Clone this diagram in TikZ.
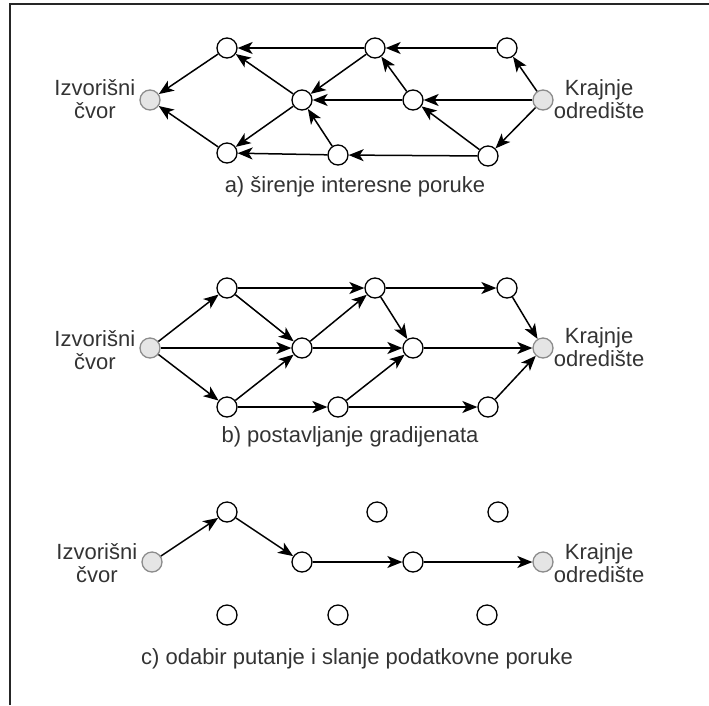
\documentclass[tikz,border=0pt]{standalone}
\usepackage{fontspec}
\setmainfont{Liberation Sans}
\usetikzlibrary{arrows.meta}

\begin{document}
\begin{tikzpicture}[x=1pt,y=-1pt,%
    vertex/.style={circle,draw,line width=1.3pt,fill=white,minimum size=20pt,inner sep=0pt},%
    endpoint/.style={vertex,draw=black!45,fill=black!10},%
    lbl/.style={text=black!80,font=\fontsize{22}{22.5}\selectfont,align=center,inner sep=0pt},%
    edge/.style={line width=1.5pt,-{Stealth[length=15pt,width=12pt,inset=4pt]}}]%
          \useasboundingbox (0,0) rectangle (709,705);%
          \draw [line width=1.5pt,black!85] (10,705) to (10,4) to (709,4);%
          % a)
          \node [endpoint] (aS) at (150,100) {};%
          \node [vertex] (aT1) at (227,48) {};%
          \node [vertex] (aT2) at (375,48) {};%
          \node [vertex] (aT3) at (507,48) {};%
          \node [vertex] (aM1) at (302,100) {};%
          \node [vertex] (aM2) at (413,100) {};%
          \node [vertex] (aB1) at (227,153) {};%
          \node [vertex] (aB2) at (338,155) {};%
          \node [vertex] (aB3) at (488,156) {};%
          \node [endpoint] (aD) at (543,100) {};%
          \draw [edge] (aT1) to (aS);%
          \draw [edge] (aB1) to (aS);%
          \draw [edge] (aT2) to (aT1);%
          \draw [edge] (aM1) to (aT1);%
          \draw [edge] (aT2) to (aM1);%
          \draw [edge] (aM1) to (aB1);%
          \draw [edge] (aB2) to (aB1);%
          \draw [edge] (aB2) to (aM1);%
          \draw [edge] (aM2) to (aM1);%
          \draw [edge] (aM2) to (aT2);%
          \draw [edge] (aT3) to (aT2);%
          \draw [edge] (aD) to (aT3);%
          \draw [edge] (aD) to (aM2);%
          \draw [edge] (aB3) to (aM2);%
          \draw [edge] (aD) to (aB3);%
          \draw [edge] (aB3) to (aB2);%
          \node [lbl,anchor=east] (aSrc) at ([xshift=-4pt,yshift=1pt]aS.west) {Izvorišni\\čvor};%
          \node [lbl,anchor=west] (aDst) at ([xshift=0pt,yshift=1pt]aD.east) {Krajnje\\odredište};%
          \node [lbl] (aCap) at (355,187) {a) širenje interesne poruke};%
          % b)
          \node [endpoint] (bS) at (150,348) {};%
          \node [vertex] (bT1) at (227,288) {};%
          \node [vertex] (bT2) at (375,288) {};%
          \node [vertex] (bT3) at (507,288) {};%
          \node [vertex] (bM1) at (302,348) {};%
          \node [vertex] (bM2) at (413,348) {};%
          \node [vertex] (bB1) at (227,407) {};%
          \node [vertex] (bB2) at (338,407) {};%
          \node [vertex] (bB3) at (488,407) {};%
          \node [endpoint] (bD) at (543,348) {};%
          \draw [edge] (bS) to (bT1);%
          \draw [edge] (bS) to (bM1);%
          \draw [edge] (bS) to (bB1);%
          \draw [edge] (bT1) to (bT2);%
          \draw [edge] (bT1) to (bM1);%
          \draw [edge] (bB1) to (bM1);%
          \draw [edge] (bB1) to (bB2);%
          \draw [edge] (bM1) to (bT2);%
          \draw [edge] (bM1) to (bM2);%
          \draw [edge] (bT2) to (bM2);%
          \draw [edge] (bT2) to (bT3);%
          \draw [edge] (bB2) to (bM2);%
          \draw [edge] (bB2) to (bB3);%
          \draw [edge] (bT3) to (bD);%
          \draw [edge] (bM2) to (bD);%
          \draw [edge] (bB3) to (bD);%
          \node [lbl,anchor=east] (bSrc) at ([xshift=-4pt,yshift=-2pt]bS.west) {Izvorišni\\čvor};%
          \node [lbl,anchor=west] (bDst) at ([xshift=0pt,yshift=1pt]bD.east) {Krajnje\\odredište};%
          \node [lbl] (bCap) at (350,437) {b) postavljanje gradijenata};%
          % c)
          \node [endpoint] (cS) at (152,562) {};%
          \node [vertex] (cT1) at (227,512) {};%
          \node [vertex] (cT2) at (377,512) {};%
          \node [vertex] (cT3) at (498,512) {};%
          \node [vertex] (cM1) at (302,562) {};%
          \node [vertex] (cM2) at (413,562) {};%
          \node [vertex] (cB1) at (227,615) {};%
          \node [vertex] (cB2) at (338,615) {};%
          \node [vertex] (cB3) at (487,615) {};%
          \node [endpoint] (cD) at (543,562) {};%
          \draw [edge] (cS) to (cT1);%
          \draw [edge] (cT1) to (cM1);%
          \draw [edge] (cM1) to (cM2);%
          \draw [edge] (cM2) to (cD);%
          \node [lbl,anchor=east] (cSrc) at ([xshift=-4pt,yshift=-1pt]cS.west) {Izvorišni\\čvor};%
          \node [lbl,anchor=west] (cDst) at ([xshift=0pt,yshift=-1pt]cD.east) {Krajnje\\odredište};%
          \node [lbl] (cCap) at (357,659) {c) odabir putanje i slanje podatkovne poruke};%
        \end{tikzpicture}
\end{document}
